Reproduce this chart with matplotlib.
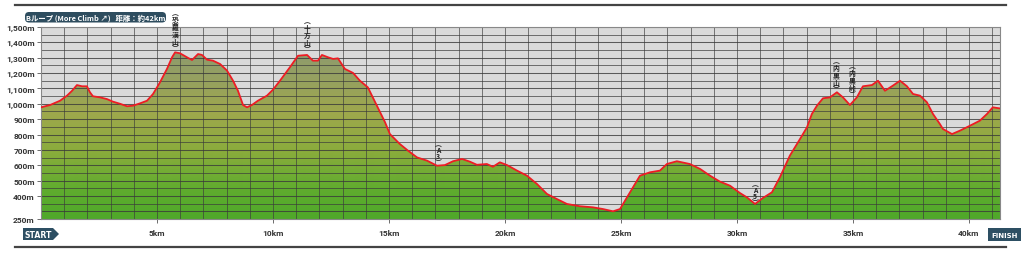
import matplotlib
matplotlib.use("Agg")
import matplotlib.pyplot as plt
import numpy as np
from matplotlib.patches import FancyBboxPatch, Polygon, Rectangle
from matplotlib.colors import LinearSegmentedColormap
from matplotlib.lines import Line2D

plt.rcParams['font.family'] = ['Noto Sans CJK JP', 'DejaVu Sans']

# ---- data ----
dist_km = [0.0, 0.39, 0.82, 1.12, 1.34, 1.55, 1.77, 1.98, 2.11, 2.24, 2.54, 2.84, 3.10, 3.41,
           3.71, 3.97, 4.27, 4.57, 4.83, 5.13, 5.43, 5.65, 5.78, 5.99, 6.29, 6.51, 6.77, 6.94,
           7.16, 7.41, 7.72, 8.02, 8.28, 8.49, 8.71, 8.88, 9.09, 9.35, 9.74, 10.0, 10.30, 10.73,
           11.08, 11.47, 11.72, 11.94, 12.11, 12.37, 12.59, 12.80, 13.10, 13.45, 13.75, 14.09,
           14.48, 14.83, 15.04, 15.47, 15.82, 16.21, 16.64, 17.07, 17.41, 17.76, 18.15, 18.49,
           18.79, 19.22, 19.48, 19.78, 20.09, 20.52, 20.95, 21.38, 21.81, 22.24, 22.67, 23.23,
           23.79, 24.22, 24.66, 24.96, 25.26, 25.52, 25.82, 26.25, 26.68, 26.98, 27.41, 27.97,
           28.41, 28.84, 29.27, 29.70, 30.13, 30.43, 30.78, 31.12, 31.51, 31.85, 32.28, 32.72,
           33.02, 33.23, 33.45, 33.71, 34.01, 34.31, 34.57, 34.87, 35.17, 35.43, 35.82, 36.08,
           36.38, 36.72, 37.03, 37.33, 37.59, 37.89, 38.19, 38.45, 38.75, 38.88, 39.27, 39.61,
           40.04, 40.47, 40.78, 41.03, 41.34]
elev_m = [977, 992, 1020, 1053, 1085, 1122, 1114, 1114, 1075, 1049, 1042, 1031, 1014, 1000,
          984, 988, 1003, 1020, 1064, 1140, 1227, 1303, 1335, 1329, 1303, 1285, 1324, 1318,
          1287, 1281, 1259, 1216, 1150, 1085, 992, 977, 992, 1020, 1053, 1092, 1150, 1238,
          1313, 1318, 1281, 1281, 1318, 1303, 1292, 1296, 1227, 1201, 1150, 1107,
          988, 880, 803, 738, 695, 651, 630, 597, 601, 626, 641, 623,
          603, 608, 590, 619, 601, 565, 532, 478, 413, 380, 348, 333,
          326, 315, 300, 315, 391, 456, 532, 554, 565, 608, 626, 608,
          576, 532, 493, 467, 419, 391, 348, 387, 424, 521, 662, 771,
          847, 934, 988, 1036, 1042, 1075, 1042, 992, 1042, 1114, 1122, 1150,
          1085, 1118, 1150, 1114, 1064, 1053, 1010, 934, 868, 836, 803, 825,
          857, 890, 934, 977, 970]

y_ticks = [250, 400, 500, 600, 700, 800, 900, 1000, 1100, 1200, 1300, 1400, 1500]
y_tick_labels = ["250m", "400m", "500m", "600m", "700m", "800m", "900m", "1,000m",
                 "1,100m", "1,200m", "1,300m", "1,400m", "1,500m"]
x_ticks = [5, 10, 15, 20, 25, 30, 35, 40]
x_tick_labels = ["5km", "10km", "15km", "20km", "25km", "30km", "35km", "40km"]

peak_names = ["恐羅漢山", "十方山", "A3", "A5", "内黒山", "内黒峠"]
peak_km = [5.78, 11.47, 17.11, 30.78, 34.27, 34.96]
peak_label_top = [1604, 1552, 751, 491, 1292, 1259]

title = "Bループ (More Climb ↗)   距離：約42km"

# ---- figure ----
W, H = 1024, 255
fig = plt.figure(figsize=(W / 100, H / 100), dpi=100)
ax_left, ax_right, ax_top, ax_bot = 41, 1000, 28, 220
ax = fig.add_axes([ax_left / W, 1 - ax_bot / H, (ax_right - ax_left) / W, (ax_bot - ax_top) / H])
xmax = 41.34
ymin, ymax = 250, 1500
ax.set_xlim(0, xmax)
ax.set_ylim(ymin, ymax)
ax.set_facecolor("#dadada")

# gradient fill clipped to profile
cmap = LinearSegmentedColormap.from_list("prof", [
    (0.0, "#4fa82a"),
    (0.15, "#5fac2e"),
    (0.35, "#8aac3c"),
    (0.55, "#9ea84c"),
    (0.75, "#95a062"),
    (1.0, "#86957a"),
])
grad = np.linspace(0, 1, 256).reshape(-1, 1)
im = ax.imshow(grad, cmap=cmap, origin="lower", aspect="auto",
               extent=[0, xmax, ymin, ymax], zorder=1)
poly_pts = np.column_stack([[dist_km[0]] + dist_km + [dist_km[-1]],
                            [ymin] + elev_m + [ymin]])
clip = Polygon(poly_pts, closed=True, transform=ax.transData, facecolor="none", edgecolor="none")
ax.add_patch(clip)
im.set_clip_path(clip)

# grid
for yv in range(250, 1501, 50):
    ax.axhline(yv, color="#3a3a3a", lw=0.75 if yv % 100 == 0 else 0.6, alpha=0.8, zorder=2)
for xv in range(0, 42):
    ax.axvline(xv, color="#3a3a3a", lw=0.6, alpha=0.75, zorder=2)

ax.plot(dist_km, elev_m, color="#ee1c24", lw=1.3, zorder=4, solid_joinstyle="round")

for s in ax.spines.values():
    s.set_color("#888888")
    s.set_linewidth(0.8)

ax.set_yticks(y_ticks)
ax.set_yticklabels(y_tick_labels, fontsize=6, fontweight="bold", color="#333333",
                   family=["Roboto", "DejaVu Sans"])
ax.set_xticks(x_ticks)
ax.set_xticklabels(x_tick_labels, fontsize=6, fontweight="bold", color="#333333",
                   family=["Roboto", "DejaVu Sans"])
ax.tick_params(axis="y", length=3, width=0.6, color="#555555", pad=1.5)
ax.tick_params(axis="x", length=3, width=0.6, color="#555555", pad=4)

# peak labels (vertical text, one character at a time)
for name, km, top in zip(peak_names, peak_km, peak_label_top):
    chars = ["︵"] + list(name) + ["︶"]
    off = 0.0
    for ch in chars:
        if ch in "︵︶":
            dy = 3.3
        elif ch.isascii():
            dy = 4.4
        else:
            dy = 5.4
        ax.annotate(ch, (km, top), xytext=(0, -off - dy / 2), textcoords="offset points",
                    ha="center", va="center", fontsize=4.9, fontweight="bold",
                    color="#222222", zorder=6, annotation_clip=False,
                    family=["Noto Sans CJK JP", "DejaVu Sans"])
        off += dy

# decorative elements in pixel coords
fax = fig.add_axes([0, 0, 1, 1], facecolor="none")
fax.set_xlim(0, W)
fax.set_ylim(H, 0)
fax.axis("off")
fax.add_line(Line2D([15, 1006], [6, 6], color="#444444", lw=1.6))
fax.add_line(Line2D([15, 1006], [248, 248], color="#444444", lw=1.6))

fax.add_patch(FancyBboxPatch((25, 13), 141, 10.5, boxstyle="round,pad=0,rounding_size=4",
                             facecolor="#2e4d5f", edgecolor="none"))
fax.text(95.5, 18.4, title, ha="center", va="center", fontsize=5.3, color="white",
         fontweight="bold")

dark = "#2d4f63"
fax.add_patch(Polygon([[23, 229], [53, 229], [59, 235], [53, 241], [23, 241]],
                      closed=True, facecolor=dark, edgecolor="none"))
fax.text(38, 235.3, "START", ha="center", va="center", fontsize=5.6, color="white",
         fontweight="heavy", family=["DejaVu Sans"])
fax.add_patch(Rectangle((988, 229), 33, 13, facecolor=dark, edgecolor="none"))
fax.text(1004.5, 235.6, "FINISH", ha="center", va="center", fontsize=5.0, color="white",
         fontweight="heavy", family=["DejaVu Sans"])

fig.savefig("out.png", dpi=100)
